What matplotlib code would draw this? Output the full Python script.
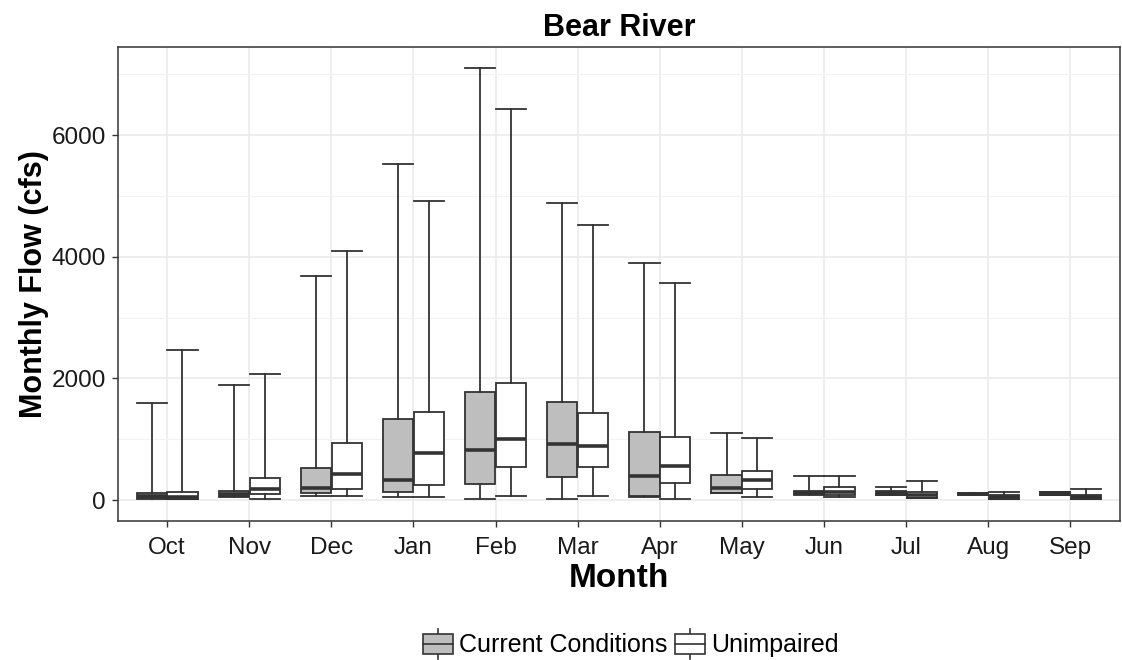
import matplotlib.pyplot as plt
import numpy as np
from matplotlib.legend_handler import HandlerBase
from matplotlib.patches import Rectangle
from matplotlib.lines import Line2D

plt.rcParams['font.family'] = ['Liberation Sans', 'DejaVu Sans']

months = ['Oct', 'Nov', 'Dec', 'Jan', 'Feb', 'Mar', 'Apr', 'May', 'Jun', 'Jul', 'Aug', 'Sep']

# five-number summaries (cfs)
cur_min = [20, 50, 70, 50, 25, 20, 50, 110, 90, 80, 90, 75]
cur_q1 = [40, 65, 120, 125, 260, 385, 70, 120, 95, 90, 100, 80]
cur_med = [70, 100, 190, 330, 820, 925, 395, 190, 120, 120, 105, 100]
cur_q3 = [110, 155, 520, 1325, 1770, 1620, 1120, 410, 150, 150, 110, 125]
cur_max = [1590, 1900, 3680, 5530, 7100, 4890, 3900, 1095, 390, 210, 120, 130]

unimp_min = [10, 25, 70, 50, 70, 70, 20, 45, 45, 30, 10, 10]
unimp_q1 = [20, 100, 175, 255, 540, 540, 275, 175, 80, 40, 15, 15]
unimp_med = [55, 185, 430, 780, 1000, 895, 555, 330, 140, 80, 50, 45]
unimp_q3 = [130, 360, 940, 1450, 1930, 1430, 1035, 470, 210, 130, 80, 80]
unimp_max = [2470, 2080, 4090, 4920, 6430, 4530, 3570, 1015, 390, 310, 125, 185]

series = ['Current Conditions', 'Unimpaired']
fills = ['#BEBEBE', 'white']
edge = '#333333'


def stats(lo, q1, med, q3, hi):
    return [dict(whislo=a, q1=b, med=c, q3=d, whishi=e, fliers=[])
            for a, b, c, d, e in zip(lo, q1, med, q3, hi)]


fig = plt.figure(figsize=(11.22, 6.6), dpi=100)
ax = fig.add_axes([0.105, 0.2106, 0.893, 0.718])

x = np.arange(1, len(months) + 1)
w = 0.375
all_stats = [stats(cur_min, cur_q1, cur_med, cur_q3, cur_max),
             stats(unimp_min, unimp_q1, unimp_med, unimp_q3, unimp_max)]
for k, st in enumerate(all_stats):
    pos = x + (k - 0.5) * w
    ax.bxp(st, positions=pos, widths=w * 0.98, capwidths=w * 0.98, patch_artist=True,
           showfliers=False, manage_ticks=False,
           boxprops=dict(facecolor=fills[k], edgecolor=edge, linewidth=1.3),
           medianprops=dict(color=edge, linewidth=2.6, solid_capstyle='butt'),
           whiskerprops=dict(color=edge, linewidth=1.3),
           capprops=dict(color=edge, linewidth=1.3), zorder=3)

ax.set_xlim(0.4, 12.6)
ax.set_ylim(-345, 7450)
ax.set_xticks(x)
ax.set_xticklabels(months)
ax.set_yticks([0, 2000, 4000, 6000])
ax.set_yticks([1000, 3000, 5000, 7000], minor=True)
ax.grid(True, which='major', color='#EBEBEB', linewidth=1.2, zorder=0)
ax.grid(True, which='minor', axis='y', color='#F2F2F2', linewidth=0.8, zorder=0)
ax.set_axisbelow(True)
ax.tick_params(which='major', length=4, width=1, color='#333333', labelsize=17.5,
               labelcolor='#1a1a1a')
ax.tick_params(axis='x', which='major', pad=7.5)
ax.tick_params(axis='y', which='major', pad=4.5)
ax.tick_params(which='minor', length=0)
for s in ax.spines.values():
    s.set_color('#333333')
    s.set_linewidth(1.1)

ax.set_title('Bear River', fontsize=22, fontweight='bold', pad=8)
ax.set_xlabel('Month', fontsize=24, fontweight='bold', labelpad=3)
ax.set_ylabel('Monthly Flow (cfs)', fontsize=22, fontweight='bold', labelpad=2)


class BoxHandler(HandlerBase):
    def create_artists(self, legend, orig_handle, xdescent, ydescent, width, height, fontsize, trans):
        fc = orig_handle.get_facecolor()
        bh = 14.5
        yc = height / 2 - ydescent
        y0 = yc - bh / 2
        rect = Rectangle((-xdescent, y0), width, bh, facecolor=fc, edgecolor=edge,
                         linewidth=1.2, transform=trans)
        mid = Line2D([-xdescent, -xdescent + width], [yc] * 2, color=edge,
                     linewidth=1.2, transform=trans)
        cx = -xdescent + width / 2
        top = Line2D([cx, cx], [y0 + bh, y0 + bh + 3.5], color=edge,
                     linewidth=1.2, transform=trans)
        bot = Line2D([cx, cx], [y0 - 3.5, y0], color=edge,
                     linewidth=1.2, transform=trans)
        return [top, bot, rect, mid]


handles = [Rectangle((0, 0), 1, 1, facecolor=fills[k]) for k in range(2)]
fig.legend(handles, series, handler_map={Rectangle: BoxHandler()},
           loc='center', bbox_to_anchor=(0.562, 1 - 645 / 660), ncol=2, frameon=False,
           fontsize=18, handlelength=1.2, handleheight=1.0, handletextpad=0.25,
           columnspacing=0.3)

fig.savefig('out.png', dpi=100)
